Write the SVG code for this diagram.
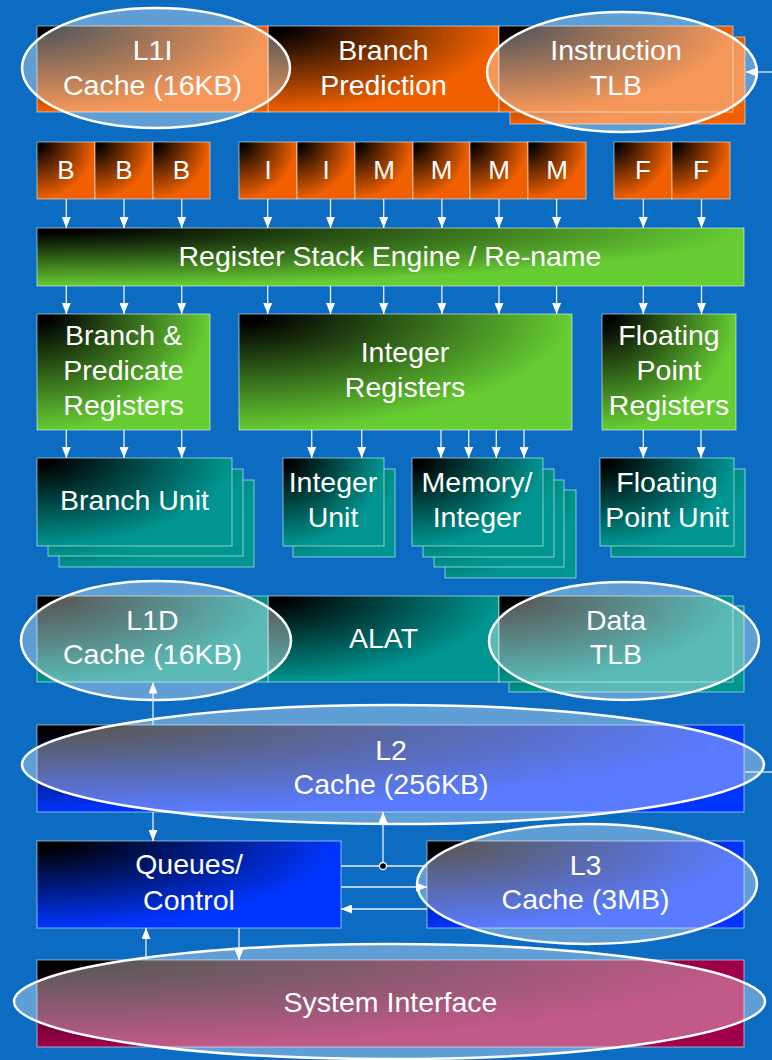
<svg xmlns="http://www.w3.org/2000/svg" width="772" height="1060" viewBox="0 0 772 1060">
  <defs>
    <!-- corner-shaded fills: black at the top-left corner fading to the base colour -->
    <radialGradient id="gOrange" cx="0" cy="0" r="1" fx="0" fy="0">
      <stop offset="0" stop-color="#000"/>
      <stop offset="0.08" stop-color="#000"/>
      <stop offset="1" stop-color="#f06000"/>
    </radialGradient>
    <radialGradient id="gGreen" cx="0" cy="0" r="1" fx="0" fy="0">
      <stop offset="0" stop-color="#000"/>
      <stop offset="0.08" stop-color="#000"/>
      <stop offset="1" stop-color="#66cc33"/>
    </radialGradient>
    <radialGradient id="gTeal" cx="0" cy="0" r="1" fx="0" fy="0">
      <stop offset="0" stop-color="#000"/>
      <stop offset="0.08" stop-color="#000"/>
      <stop offset="1" stop-color="#009590"/>
    </radialGradient>
    <radialGradient id="gBlue" cx="0" cy="0" r="1" fx="0" fy="0">
      <stop offset="0" stop-color="#000"/>
      <stop offset="0.08" stop-color="#000"/>
      <stop offset="1" stop-color="#0035ff"/>
    </radialGradient>
    <radialGradient id="gCrimson" cx="0" cy="0" r="1" fx="0" fy="0">
      <stop offset="0" stop-color="#000"/>
      <stop offset="0.08" stop-color="#000"/>
      <stop offset="1" stop-color="#a0004a"/>
    </radialGradient>
    <marker id="ah" viewBox="0 0 11 9" refX="11" refY="4.5" markerWidth="11" markerHeight="9" markerUnits="userSpaceOnUse" orient="auto">
      <path d="M0,0 L11,4.5 L0,9 z" fill="#fff"/>
    </marker>
    <style>
      .box{stroke:#fff;stroke-opacity:.55;stroke-width:1}
      .or{fill:url(#gOrange)}
      .gr{fill:url(#gGreen)}
      .te{fill:url(#gTeal)}
      .bl{fill:url(#gBlue)}
      .cr{fill:url(#gCrimson)}
      .hl{fill:#fff;fill-opacity:.35;stroke:#fff;stroke-width:2.5}
      text{font-family:"Liberation Sans",Arial,sans-serif;font-size:28.5px;fill:#fff;text-anchor:middle}
      .slot{font-size:26px}
      .wire{stroke:#e8f0fb;stroke-width:1.3;fill:none}
      .arrow{marker-end:url(#ah)}
    </style>
  </defs>

  <rect x="0" y="0" width="772" height="1060" fill="#0b6cc1"/>

  <!-- front end -->
  <g id="branch-prediction">
    <rect class="box or" x="268" y="26" width="231" height="86"/>
    <text x="383.5" y="60">Branch</text>
    <text x="383.5" y="95">Prediction</text>
  </g>
  <g id="l1i-cache">
    <rect class="box or" x="37" y="26" width="231" height="86"/>
    <ellipse class="hl" cx="156" cy="68" rx="134" ry="60"/>
    <text x="152.5" y="60">L1I</text>
    <text x="152.5" y="95">Cache (16KB)</text>
  </g>
  <g id="instruction-tlb">
    <rect class="box or" x="510" y="37" width="235" height="87"/>
    <rect class="box or" x="499" y="26" width="234" height="86"/>
    <ellipse class="hl" cx="622" cy="72" rx="135" ry="60"/>
    <text x="616" y="60">Instruction</text>
    <text x="616" y="95">TLB</text>
  </g>

  <!-- issue slots -->
  <g id="slot-b1"><rect class="box or" x="37" y="142" width="58" height="57"/><text class="slot" x="66" y="179">B</text></g>
  <g id="slot-b2"><rect class="box or" x="95" y="142" width="58" height="57"/><text class="slot" x="124" y="179">B</text></g>
  <g id="slot-b3"><rect class="box or" x="153" y="142" width="57" height="57"/><text class="slot" x="181.5" y="179">B</text></g>
  <g id="slot-i1"><rect class="box or" x="239" y="142" width="58" height="57"/><text class="slot" x="268" y="179">I</text></g>
  <g id="slot-i2"><rect class="box or" x="297" y="142" width="58" height="57"/><text class="slot" x="326" y="179">I</text></g>
  <g id="slot-m1"><rect class="box or" x="355" y="142" width="58" height="57"/><text class="slot" x="384" y="179">M</text></g>
  <g id="slot-m2"><rect class="box or" x="413" y="142" width="57" height="57"/><text class="slot" x="441.5" y="179">M</text></g>
  <g id="slot-m3"><rect class="box or" x="470" y="142" width="58" height="57"/><text class="slot" x="499" y="179">M</text></g>
  <g id="slot-m4"><rect class="box or" x="528" y="142" width="58" height="57"/><text class="slot" x="557" y="179">M</text></g>
  <g id="slot-f1"><rect class="box or" x="614" y="142" width="58" height="57"/><text class="slot" x="643" y="179">F</text></g>
  <g id="slot-f2"><rect class="box or" x="672" y="142" width="58" height="57"/><text class="slot" x="701" y="179">F</text></g>

  <g id="register-stack-engine">
    <rect class="box gr" x="37" y="228" width="707" height="58"/>
    <text x="390" y="266">Register Stack Engine / Re-name</text>
  </g>

  <!-- register files -->
  <g id="branch-predicate-registers">
    <rect class="box gr" x="37" y="314" width="173" height="116"/>
    <text x="123.5" y="345">Branch &amp;</text>
    <text x="123.5" y="380">Predicate</text>
    <text x="123.5" y="415">Registers</text>
  </g>
  <g id="integer-registers">
    <rect class="box gr" x="239" y="314" width="333" height="116"/>
    <text x="405" y="362">Integer</text>
    <text x="405" y="397">Registers</text>
  </g>
  <g id="fp-registers">
    <rect class="box gr" x="602" y="314" width="134" height="116"/>
    <text x="669" y="345">Floating</text>
    <text x="669" y="380">Point</text>
    <text x="669" y="415">Registers</text>
  </g>

  <!-- execution units -->
  <g id="branch-unit">
    <rect class="box te" x="59" y="480" width="195" height="87"/>
    <rect class="box te" x="48" y="469" width="195" height="87"/>
    <rect class="box te" x="37" y="458" width="195" height="88"/>
    <text x="134.5" y="510">Branch Unit</text>
  </g>
  <g id="integer-unit">
    <rect class="box te" x="293" y="469" width="102" height="88"/>
    <rect class="box te" x="283" y="458" width="101" height="88"/>
    <text x="333" y="492">Integer</text>
    <text x="333" y="527">Unit</text>
  </g>
  <g id="memory-integer-unit">
    <rect class="box te" x="445" y="490" width="131" height="88"/>
    <rect class="box te" x="434" y="480" width="130" height="87"/>
    <rect class="box te" x="423" y="469" width="131" height="88"/>
    <rect class="box te" x="412" y="458" width="131" height="88"/>
    <text x="477" y="492">Memory/</text>
    <text x="477" y="527">Integer</text>
  </g>
  <g id="fp-unit">
    <rect class="box te" x="611" y="469" width="134" height="88"/>
    <rect class="box te" x="600" y="458" width="134" height="88"/>
    <text x="667" y="492">Floating</text>
    <text x="667" y="527">Point Unit</text>
  </g>

  <!-- data side -->
  <g id="alat">
    <rect class="box te" x="268" y="596" width="231" height="86"/>
    <text x="383.5" y="648">ALAT</text>
  </g>
  <g id="l1d-cache">
    <rect class="box te" x="37" y="596" width="231" height="86"/>
    <ellipse class="hl" cx="156" cy="640.5" rx="135" ry="59.5"/>
    <text x="152.5" y="630">L1D</text>
    <text x="152.5" y="664">Cache (16KB)</text>
  </g>
  <g id="data-tlb">
    <rect class="box te" x="509" y="606" width="235" height="86"/>
    <rect class="box te" x="499" y="596" width="234" height="86"/>
    <ellipse class="hl" cx="624" cy="641" rx="135" ry="59"/>
    <text x="616" y="630">Data</text>
    <text x="616" y="664">TLB</text>
  </g>

  <g id="l2-cache">
    <rect class="box bl" x="37" y="725" width="707" height="87"/>
    <ellipse class="hl" cx="393" cy="764.5" rx="371" ry="59.5"/>
    <text x="391" y="760">L2</text>
    <text x="391" y="794">Cache (256KB)</text>
  </g>
  <g id="queues-control">
    <rect class="box bl" x="37" y="841" width="304" height="87"/>
    <text x="189" y="874">Queues/</text>
    <text x="189" y="910">Control</text>
  </g>
  <g id="l3-cache">
    <rect class="box bl" x="427" y="841" width="317" height="87"/>
    <ellipse class="hl" cx="587" cy="884" rx="170" ry="60"/>
    <text x="585.5" y="875">L3</text>
    <text x="585.5" y="909">Cache (3MB)</text>
  </g>
  <g id="system-interface">
    <rect class="box cr" x="37" y="960" width="707" height="87"/>
    <ellipse class="hl" cx="389.5" cy="1001.5" rx="375.5" ry="57.5"/>
    <text x="390.5" y="1012">System Interface</text>
  </g>

  <!-- connectors -->
  <g id="connectors">
    <!-- issue slots to register stack engine -->
    <g class="wire arrow">
      <line x1="66.3" y1="199" x2="66.3" y2="228"/>
      <line x1="124" y1="199" x2="124" y2="228"/>
      <line x1="181.7" y1="199" x2="181.7" y2="228"/>
      <line x1="267.7" y1="199" x2="267.7" y2="228"/>
      <line x1="330.5" y1="199" x2="330.5" y2="228"/>
      <line x1="383.7" y1="199" x2="383.7" y2="228"/>
      <line x1="441.9" y1="199" x2="441.9" y2="228"/>
      <line x1="499" y1="199" x2="499" y2="228"/>
      <line x1="556.6" y1="199" x2="556.6" y2="228"/>
      <line x1="643.3" y1="199" x2="643.3" y2="228"/>
      <line x1="701.5" y1="199" x2="701.5" y2="228"/>
    </g>
    <!-- register stack engine to register files -->
    <g class="wire arrow">
      <line x1="66.3" y1="286" x2="66.3" y2="314"/>
      <line x1="124" y1="286" x2="124" y2="314"/>
      <line x1="181.7" y1="286" x2="181.7" y2="314"/>
      <line x1="267.7" y1="286" x2="267.7" y2="314"/>
      <line x1="330.5" y1="286" x2="330.5" y2="314"/>
      <line x1="383.7" y1="286" x2="383.7" y2="314"/>
      <line x1="441.9" y1="286" x2="441.9" y2="314"/>
      <line x1="499" y1="286" x2="499" y2="314"/>
      <line x1="556.6" y1="286" x2="556.6" y2="314"/>
      <line x1="643.3" y1="286" x2="643.3" y2="314"/>
      <line x1="701.5" y1="286" x2="701.5" y2="314"/>
    </g>
    <!-- register files to execution units -->
    <g class="wire arrow">
      <line x1="66.3" y1="430" x2="66.3" y2="458"/>
      <line x1="124" y1="430" x2="124" y2="458"/>
      <line x1="181.7" y1="430" x2="181.7" y2="458"/>
      <line x1="311.7" y1="430" x2="311.7" y2="458"/>
      <line x1="361.7" y1="430" x2="361.7" y2="458"/>
      <line x1="441" y1="430" x2="441" y2="458"/>
      <line x1="468.7" y1="430" x2="468.7" y2="458"/>
      <line x1="496.3" y1="430" x2="496.3" y2="458"/>
      <line x1="524" y1="430" x2="524" y2="458"/>
      <line x1="643.3" y1="430" x2="643.3" y2="458"/>
      <line x1="701" y1="430" x2="701" y2="458"/>
    </g>
    <!-- memory hierarchy -->
    <g class="wire arrow">
      <line x1="772" y1="72" x2="746" y2="72"/>
      <line x1="153" y1="725" x2="153" y2="682.5"/>
      <line x1="153" y1="812" x2="153" y2="841"/>
      <line x1="383" y1="866" x2="383" y2="812"/>
      <line x1="341" y1="887" x2="427" y2="887"/>
      <line x1="427" y1="909" x2="341" y2="909"/>
      <line x1="146" y1="960" x2="146" y2="928"/>
      <line x1="239" y1="928" x2="239" y2="960"/>
    </g>
    <g class="wire">
      <line x1="745" y1="772" x2="772" y2="772"/>
      <line x1="341" y1="866" x2="427" y2="866"/>
    </g>
    <circle cx="383" cy="866" r="3.5" fill="#000" stroke="#fff" stroke-width="1.3"/>
  </g>
</svg>
